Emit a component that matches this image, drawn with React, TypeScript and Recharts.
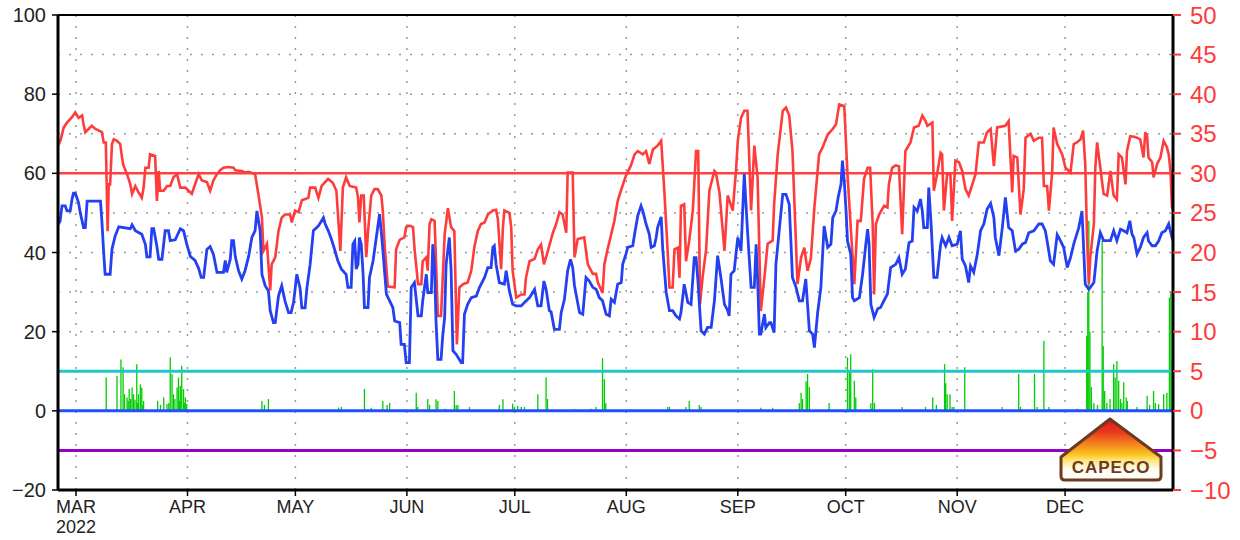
import React from 'react';
import { ComposedChart, Line, Scatter, ErrorBar, XAxis, YAxis, CartesianGrid, ReferenceLine } from 'recharts';

// day index 0 = 24 Feb 2022
const monthTicks = [5, 36, 66, 97, 127, 158, 189, 219, 250, 280];
const monthLabels = ['MAR', 'APR', 'MAY', 'JUN', 'JUL', 'AUG', 'SEP', 'OCT', 'NOV', 'DEC'];
const yearLabel = '2022';
const leftTicks = [-20, 0, 20, 40, 60, 80, 100];
const rightTicks = [-10, -5, 0, 5, 10, 15, 20, 25, 30, 35, 40, 45, 50];
const gridLevels = [-10, 10, 20, 30, 40, 50, 60, 70, 80, 90];

// blue series (left axis)
const blueSeries: [number, number][] = [
  [0,47],[0.6,48],[1.1,51.8],[2,51.8],[2.5,50.5],[3.4,50.5],[3.9,53.5],[4.3,55],[4.8,55],[5.7,52.6],[6.2,50],[6.7,48],[7.1,46.3],[7.6,46.3],[8.1,53],[11.8,53],[12.2,48],[12.7,40],[13.1,34.5],[14.5,34.5],[15,40.8],[15.9,44.2],[16.9,46.5],[20.1,46],[20.6,47],[21.5,45.5],[23.3,44.6],[24.3,42],[24.7,38.9],[25.6,38.9],[26.1,46],[26.6,46],[27.5,41.5],[28,38.3],[28.9,38.3],[29.8,45.5],[30.7,45.5],[31.2,43],[32.6,43.2],[34,46],[34.9,45.5],[35.8,42.1],[36.8,39],[38.1,38],[39.1,36],[39.8,33.7],[40.5,33.7],[41.4,40.8],[42.3,41.5],[43.2,39.6],[44.2,35],[46,35],[46.5,38],[46.9,35],[47.9,38.3],[48.3,43],[48.8,43],[49.3,38.9],[50.2,35.4],[51.1,33.3],[52,35.4],[53,39],[53.9,43.8],[54.8,45.5],[55.3,50.5],[56.2,45.5],[56.7,34.5],[57.6,31.6],[58.5,30.3],[59,25.3],[59.9,22.3],[60.4,22.3],[61.3,29],[62.2,31.6],[63.1,27.8],[64.1,24.8],[64.8,24.8],[65.5,27.4],[66.4,34.5],[67.3,31],[67.8,26],[68.7,26],[69.2,31],[70.1,37],[71,45.5],[72.4,46.7],[73.8,48.8],[74.3,47.2],[75.1,45.6],[76,43.4],[76.9,40.8],[77.8,37.9],[78.8,35.8],[80.1,34.5],[80.6,31.2],[81.5,31.2],[82,42.1],[82.5,42.9],[82.9,35.8],[83.4,37],[83.8,43.8],[84.3,42.1],[84.8,35],[85.2,26.1],[86.2,26.1],[86.6,33.7],[87.6,37.9],[88.5,43.8],[89.4,49.7],[89.9,45],[90.3,40.8],[91.3,29.5],[92.2,27.8],[93.1,26.1],[93.6,22.7],[95,22.3],[95.4,16.8],[96.3,16.8],[96.8,12.2],[97.7,12.2],[98.2,31.2],[99.1,32.4],[100.1,24],[101,24],[101.4,27.8],[102.4,34.5],[102.8,29.9],[103.8,29.9],[104.2,42.1],[104.7,36],[105.1,22.7],[105.6,13],[106.5,13],[107,19.4],[107.5,23.6],[107.9,37],[108.8,43.8],[109.3,35.4],[109.8,15.2],[110.7,14.3],[112.1,12.2],[112.5,12.2],[113,24.4],[113.9,26.9],[114.9,28.6],[116.3,29],[117.2,31.2],[118.6,33.7],[119.5,36.2],[120.4,36.2],[120.9,41.3],[121.3,41.7],[121.8,37],[122.7,32.4],[124.1,32],[124.6,35.4],[125.5,30.3],[126.4,26.9],[127.4,26.5],[128.8,26.5],[129.7,27.4],[131.1,28.6],[132.5,30.7],[133.4,26.5],[134.3,26.5],[135.1,32.8],[135.7,30.7],[136.6,25.3],[137.1,25],[138,20.6],[139.4,20.6],[139.9,24.8],[140.8,28.2],[141.7,35.4],[142.5,38.3],[143.1,36.2],[143.6,31.6],[145,24.8],[145.9,24.4],[146.8,33.7],[147.7,32.8],[148.7,31.2],[149.6,30.7],[150.5,28.6],[151.4,27.8],[152.4,24.4],[153.3,24],[153.8,28.2],[154.7,27.4],[155.6,32],[156.6,32.4],[157,37],[157.9,39.6],[158.4,41.3],[159.8,41.7],[160.3,44.6],[161.2,49.3],[162.1,51.8],[162.6,50.5],[163.5,47.2],[164.4,44.6],[164.9,41.3],[165.8,41.7],[166.3,43.8],[166.7,46.3],[167.7,49],[168.1,41.3],[169.1,29.9],[170,25.3],[170.9,25.3],[171.8,24],[172.8,23.2],[173.2,24.8],[174.1,32],[175.1,27.4],[176,26.9],[176.9,38.7],[177.4,38.7],[177.9,33],[178.8,20.2],[179.7,19.4],[180.6,21.1],[181.6,21.1],[182.5,27.8],[183.4,39.2],[184.3,33.7],[185.3,26.9],[186.2,25.3],[186.6,24],[187.1,34.5],[188,35.4],[189,43.8],[189.9,40.4],[190.4,51.4],[190.8,59.8],[191.7,45.5],[192.7,31.2],[193.6,31.2],[194.1,42.1],[194.5,33.7],[195,19.4],[195.4,19.4],[196.4,24.4],[196.8,21],[197.8,22.3],[198.2,22.3],[199.1,19.8],[199.6,37],[201.5,54.7],[202.4,54.7],[203.3,52.2],[203.8,42.1],[204.2,33.7],[205.2,31.2],[206.1,27.8],[207,27.8],[207.9,33.3],[208.9,20.2],[209.8,19.4],[210.3,16],[211.2,24.8],[212.1,31.2],[213,46.7],[214,41.3],[214.9,42.1],[215.4,48.8],[216.3,50.5],[216.9,53.9],[217.7,57.3],[218.1,63.2],[218.6,58],[219.1,50.5],[219.5,42.9],[220.4,39.6],[220.9,28.6],[221.4,27.8],[222.8,28.6],[223.7,34.5],[224.6,42.1],[225.1,45.9],[225.5,42.1],[226,26.9],[226.9,23.6],[227.9,25.8],[228.7,26.1],[229.6,27.8],[230.6,29.5],[231.5,36.2],[232.9,37],[233.8,38.7],[234.7,34.5],[235.6,35.8],[236.6,42.5],[237.5,42.9],[238,51.4],[238.9,50.5],[239.8,53.5],[240.3,50.5],[240.7,46.3],[241.7,46.3],[242.1,56.4],[242.8,46.3],[243.5,33.7],[244.4,33.7],[245.4,42.1],[245.8,43.8],[246.8,41.7],[247.7,43.8],[248.6,41.7],[250,42.1],[250.9,45.5],[251.4,38.3],[252.3,36.6],[253.2,32.4],[253.7,36.6],[254.6,35],[255.6,39.6],[256.5,45.5],[257.4,47.2],[258.3,50.9],[259.3,52.4],[260.2,48.8],[260.6,43.8],[261.6,39.2],[262.5,45.9],[263.4,53.9],[264.3,46.3],[265.3,45.5],[266.2,40.4],[267.1,40.8],[268.1,42.1],[269,42.5],[269.9,45],[271.3,45.5],[272.7,47.2],[273.6,47.2],[274.5,45.5],[275,42.9],[275.9,37.9],[276.8,37],[277.8,44.5],[278.7,43],[279.6,41.3],[280.6,36.2],[281.5,38.7],[282.4,42.1],[283.8,46.3],[284.7,50.5],[285.6,32],[286.6,30.7],[288,32.4],[288.9,40.4],[289.8,45],[290.7,43],[292.6,43],[293.5,45.5],[294.4,43],[295.4,45.9],[296.3,45.5],[297.2,45],[298,48],[298.6,44.6],[299.1,43.8],[300,39.6],[300.9,41.3],[301.8,43.8],[302.8,45],[303.2,42.9],[304.2,41.7],[305.1,41.7],[306,42.9],[306.9,45],[307.9,45.5],[308.8,47.2],[309.7,43.8],[310,43]
];

// red series (right axis)
const redSeries: [number, number][] = [
  [0,33.5],[0.65,34.1],[1.6,35.8],[2.5,36.4],[3.9,37.1],[4.8,37.7],[5.7,37],[6.7,37.3],[7.1,36.2],[7.6,35.2],[8.5,35.6],[9.4,36],[10.4,35.6],[12.2,35.2],[12.7,33.9],[13.3,33.9],[13.8,22.7],[14.1,28.6],[14.5,28.6],[15,33.7],[15.5,34.3],[16.4,34.1],[17.3,33.7],[17.8,32],[18.2,31],[19.2,29.9],[20.1,28.6],[20.6,27.4],[21.5,28.4],[22.4,27.6],[23.3,26.9],[23.8,28.2],[24.3,30.7],[25.2,30.7],[25.6,32.4],[27,32.2],[27.5,26.5],[28,30.3],[28.4,27.8],[29.4,27.8],[30.3,28.4],[31.2,28.4],[32.1,29.5],[33.1,29.9],[34,28.2],[35.4,28.2],[36.3,27.8],[37.2,27.4],[38.1,28.6],[39.1,29.9],[40,29.1],[41.4,28.9],[42.3,27.8],[43.2,29.1],[44.2,29.9],[45.1,30.4],[46,30.7],[47.4,30.8],[48.8,30.7],[49.3,30.4],[51.1,30.3],[52,30.1],[53,30.2],[54.8,29.9],[55.7,27.4],[56.7,24.4],[57.1,20.2],[58.1,21.1],[59,15.2],[59.4,18.5],[60.4,19.4],[61.3,22.7],[62.2,24.4],[63.1,24.8],[64.5,24.8],[65,23.8],[65.9,25.3],[66.9,25.1],[67.8,26.6],[69.6,26.9],[70.1,28.2],[71.5,28.2],[72.4,26.9],[73.3,28.4],[75.1,29.3],[76.4,28.8],[77.4,27.8],[78.5,20.2],[79.2,28.2],[80.1,29.5],[81.1,28.4],[82.9,28.2],[83.4,27],[83.8,23.8],[84.3,27.2],[85,27.2],[85.7,19.4],[86.2,22.7],[87.1,27.2],[88,28],[88.9,28],[89.9,27.2],[90.3,25.3],[90.8,21],[91.7,15.7],[93.6,15.6],[94,20.4],[95,21.6],[96.3,21.9],[96.8,23.2],[97.7,23.4],[98.7,23.2],[99.1,20.6],[100.1,16],[101,16],[101.4,18.9],[102.4,19.4],[102.8,17.7],[103.3,23.6],[103.8,24.2],[104.7,24],[105.1,18.9],[105.6,12],[106.5,12],[107.5,22.3],[108.4,25.6],[109.3,23.2],[110.2,22.7],[110.9,8.4],[111.6,15.6],[112.6,16],[113.9,16.2],[114.9,17.7],[115.8,20.8],[116.7,22.7],[117.6,23.6],[118.6,23.8],[119.5,24.8],[120.9,25.3],[121.8,25.4],[122.3,24.2],[123.2,17.9],[123.7,23.2],[124.1,25.3],[125.5,25],[126,23.2],[126.4,17.7],[127.4,14.3],[128.8,14.7],[129.7,14.7],[130.1,16.8],[131.1,18.9],[132.5,19.2],[133.4,20.4],[134.3,21],[135.1,18.5],[135.7,19.4],[137.6,22.5],[138.5,23.6],[139.4,25.1],[140.3,24.8],[141.3,22.5],[141.7,30.1],[143.1,30.1],[143.6,19.4],[144.5,21.7],[146.3,21.9],[147.3,18.5],[148.7,17.3],[149.6,17.3],[150.1,16.2],[151.4,14.9],[151.9,18.5],[152.8,20.4],[153.8,22.3],[154.7,24],[155.6,26.5],[156.5,27.8],[157.9,29.7],[159.3,31],[160.3,32.4],[161.2,32.8],[162.6,32.4],[163.5,32.8],[164.4,31.2],[165.4,33],[166.7,33.5],[167.7,34.1],[168.6,27.6],[169.5,20.2],[170,15.6],[170.9,15.6],[171.4,20.4],[172.3,20.6],[172.8,16.8],[173.2,25.9],[174.1,26.1],[174.6,18.9],[175.5,21.5],[176.5,25.3],[177.4,32.8],[178,32.8],[178.5,13.5],[179.2,16.8],[180.2,20.4],[181.1,27.8],[182.5,30.3],[182.9,30.1],[183.9,27.6],[185.3,20.2],[186.2,27.2],[187.6,25.3],[188.5,30.3],[189,34.1],[189.9,37],[190.8,37.9],[191.7,37.9],[192.7,25.3],[193.6,33.5],[194.5,29.5],[195.4,12.6],[196.4,16.8],[197.3,21.1],[198.7,21.5],[199.1,26.1],[200.1,32.4],[201.5,37.9],[202.4,38.3],[203.3,37.3],[204.2,32.8],[204.7,26.9],[205.6,16],[206.6,19.4],[207.5,20.6],[208.4,17.7],[209.3,19.2],[210.3,25.7],[211.6,32.4],[212.6,33.3],[214,34.9],[215.4,35.6],[216.3,36.2],[217.2,38.7],[218.6,38.5],[219.5,29.9],[220.4,23.2],[221.4,16],[222.3,24],[223.2,24],[224.1,29.3],[225.1,30.7],[225.8,30.7],[226.5,23.6],[226.9,14.7],[227.4,23.6],[228.3,24.8],[229.7,25.9],[230.6,25.7],[231,28.6],[231.9,30.7],[232.9,31],[233.8,30.9],[234.7,22.3],[235.6,32.8],[237,33.9],[238,35.8],[239.3,36],[240.3,37.3],[241.2,36.6],[241.7,36],[243.1,36.4],[243.5,27.8],[244.4,29.9],[245.4,32.6],[245.8,32.4],[246.3,25.3],[247.2,29.9],[248.1,29.9],[248.6,24],[249.5,31.6],[250.5,31.4],[251.4,30.3],[252.3,28],[253.2,27.2],[254.2,28.6],[255.1,29.9],[256,33.9],[257.4,33.9],[258.3,35.2],[259.3,35.6],[260.2,30.9],[261.1,35.8],[263.4,36],[264.3,36.6],[265.3,27.6],[265.7,32.2],[266.7,32],[267.6,24.8],[268.5,28],[269,34.5],[270.4,35],[271.3,34.1],[272.7,34.5],[273.6,34.5],[274.1,28.4],[275,28.4],[275.5,25.3],[276.4,30.1],[276.8,35.8],[277.8,33.7],[279.2,32.4],[280.1,30.7],[281.5,30.1],[282.4,33.7],[283.3,33.9],[284.3,34.3],[285,35.4],[285.6,31.2],[286.1,21.9],[286.6,16],[287,19.4],[288,23.6],[288.4,30.7],[288.9,33.9],[289.8,30.7],[290.7,27.4],[291.7,27.2],[292.6,30.3],[293.5,27.2],[294.4,26.7],[294.9,32.4],[295.8,32],[296.8,28.6],[297.2,32.8],[298.1,34.7],[299.5,34.6],[300.9,34.3],[301.8,32],[302.3,35.2],[302.8,34.7],[303.2,32],[304.2,31.4],[304.6,29.5],[305.6,31.2],[306.5,32],[307.4,34.1],[308.3,33.3],[308.8,32.4],[309.3,30.3],[309.7,25.7],[310,25.5]
];

// green bars (left axis)
const rainSeries: [number, number][] = [
  [13.4,8.4],[16.4,8.8],[17.5,13],[18.1,11],[18.5,4.2],[19.2,3.4],[19.5,2.5],[19.8,5.5],[20.2,3],[20.6,5.9],[21,4.2],[21.4,2.8],[21.9,11.8],[22.1,2],[22.4,4.2],[22.9,6.7],[23.3,5.9],[23.6,1.5],[23.8,2.5],[27.7,2.5],[28.5,1.5],[29.4,3.4],[30.3,1.7],[30.8,2],[31.2,13.5],[31.7,9.3],[32.1,4.2],[32.5,3],[33.1,5.9],[33.5,8.4],[33.8,2.5],[34,6.3],[34.4,11.4],[34.9,5.5],[35.1,2],[35.4,3.4],[35.8,1.7],[56.7,2.5],[57.4,1.5],[58.5,3],[78,0.8],[78.8,1],[85.2,5.5],[87.1,0.8],[90.3,2.5],[91.5,1.5],[92.2,2],[99.6,4.6],[100,1],[102.8,3],[103.3,1.5],[105.1,2.9],[105.6,2.5],[107.5,0.5],[110.2,5],[110.7,1.5],[111.2,1.5],[114.4,1],[122.7,1.5],[123.7,2.9],[126.4,1.8],[126.9,1],[127.8,1.2],[128.8,1],[129.7,1],[133.4,4.2],[135.7,8.4],[136.1,3],[143.6,0.5],[148.2,0.5],[149.6,1],[151.4,13.3],[151.9,8],[152.3,2],[169.5,1],[170,1],[174.6,1],[175.5,2.5],[178.3,1.5],[178.8,1],[195.4,0.8],[198.7,0.8],[206.1,2],[206.6,4.6],[207,3],[208,7.4],[208.4,9.3],[208.9,6],[214.4,2],[219.5,13.5],[220,10],[220.4,14.3],[221.4,7.6],[221.8,3.4],[226,2],[226.5,10.5],[227,2],[234.7,1],[241.2,1],[243.2,3.4],[244.2,1.5],[246.5,11.8],[246.8,7],[247.2,4.2],[248,4.2],[248.6,1],[249.1,1],[252.1,11],[262.5,1],[267.1,9.3],[267.6,1],[271.5,9.3],[272.2,1],[274.1,17.7],[275.5,1],[283.3,0.5],[286,19],[286.3,30],[286.6,48],[286.9,20],[287.3,6],[288,2],[289,1.5],[290.3,43],[290.6,16.4],[291,5],[291.6,2],[292.5,3],[293.5,11.8],[293.9,8.4],[294.4,12.6],[294.9,7.6],[295.4,3],[295.8,2],[296.3,7.2],[297,3.4],[297.3,2.5],[300,1],[302.8,3.8],[303.5,1.5],[304.6,5],[305.1,2],[306,1.7],[307.4,4.2],[308.3,4.6],[309,28.6],[309.4,30],[309.8,13]
];

const blueData = blueSeries.map(([d, y]) => ({ d, y }));
const redData = redSeries.map(([d, y]) => ({ d, y }));
const rainData = rainSeries.map(([d, v]) => ({ d, y: v / 2, e: v / 2 }));

const FONT = '"Liberation Sans", Arial, Helvetica, sans-serif';
const fmt = (v: number) => String(v).replace('-', '\u2212');

const MonthTick = (props: any) => {
  const { x, y, payload } = props;
  const i = monthTicks.indexOf(payload.value);
  return (
    <g>
      <text x={x} y={y} dy={15} textAnchor="middle" fontSize={18} fill="#222" fontFamily={FONT}>
        {monthLabels[i]}
      </text>
      {i === 0 && (
        <text x={x} y={y} dy={35} textAnchor="middle" fontSize={18} fill="#222" fontFamily={FONT}>
          {yearLabel}
        </text>
      )}
    </g>
  );
};

const Logo = () => (
  <svg width={110} height={70} style={{ position: 'absolute', left: 1057, top: 415 }}>
    <defs>
      <linearGradient id="capecoGrad" x1="0" y1="0" x2="0" y2="1">
        <stop offset="0" stopColor="#e3101c" />
        <stop offset="0.22" stopColor="#ea3a1e" />
        <stop offset="0.42" stopColor="#f3861f" />
        <stop offset="0.58" stopColor="#fcc41e" />
        <stop offset="0.68" stopColor="#ffe67a" />
        <stop offset="0.82" stopColor="#fffbee" />
        <stop offset="1" stopColor="#ffffff" />
      </linearGradient>
    </defs>
    <path
      d="M53,4 L104,42 L104,61 Q104,65 100,65 L8,65 Q4,65 4,61 L4,42 Z"
      fill="url(#capecoGrad)"
      stroke="#6b3a1f"
      strokeWidth={3}
      strokeLinejoin="round"
    />
    <text x={54} y={58} textAnchor="middle" fontSize={17} fontWeight="bold" fill="#6b3a1f" fontFamily={FONT} letterSpacing={1}>
      CAPECO
    </text>
  </svg>
);

export default function App() {
  return (
    <div style={{ position: 'absolute', left: 0, top: 0, width: 1240, height: 540, background: '#fff' }}>
      <ComposedChart width={1240} height={540} margin={{ top: 15, right: 0, bottom: 0, left: 0 }}>
        <CartesianGrid
          horizontalValues={gridLevels}
          verticalValues={monthTicks}
          stroke="#9a9a9a"
          strokeDasharray="2 9"
          strokeWidth={1.5}
        />
        <XAxis
          dataKey="d"
          type="number"
          domain={[0, 310]}
          ticks={monthTicks}
          allowDataOverflow
          height={50}
          tickSize={6}
          tickMargin={2}
          tick={<MonthTick />}
          axisLine={{ stroke: '#000', strokeWidth: 3 }}
          tickLine={{ stroke: '#000', strokeWidth: 1.5 }}
        />
        <YAxis
          dataKey="y"
          type="number"
          domain={[-20, 100]}
          ticks={leftTicks}
          allowDataOverflow
          width={58}
          tickSize={6}
          tickMargin={6}
          tickFormatter={fmt}
          tick={{ fontSize: 20, fill: '#222', fontFamily: FONT }}
          axisLine={{ stroke: '#000', strokeWidth: 3 }}
          tickLine={{ stroke: '#000', strokeWidth: 1.5 }}
        />
        <YAxis
          yAxisId="right"
          orientation="right"
          dataKey="y"
          type="number"
          domain={[-10, 50]}
          ticks={rightTicks}
          allowDataOverflow
          width={67}
          tickSize={8}
          tickMargin={9}
          tickFormatter={fmt}
          tick={{ fontSize: 24, fill: '#ff3b3b', fontFamily: FONT }}
          axisLine={{ stroke: '#000', strokeWidth: 3 }}
          tickLine={{ stroke: '#ff3b3b', strokeWidth: 2 }}
        />
        <Scatter data={rainData} dataKey="y" shape={() => <g />} isAnimationActive={false}>
          <ErrorBar dataKey="e" direction="y" width={0} stroke="#00cc00" strokeWidth={1.3} isAnimationActive={false} />
        </Scatter>
        <ReferenceLine y={100} stroke="#000" strokeWidth={2} />
        <ReferenceLine y={60} stroke="#ff4040" strokeWidth={2.5} />
        <ReferenceLine y={10} stroke="#1ec8c8" strokeWidth={3} />
        <ReferenceLine y={0} stroke="#2050ff" strokeWidth={3} />
        <ReferenceLine y={-10} stroke="#9400c8" strokeWidth={3} />
        <Line
          data={redData}
          yAxisId="right"
          dataKey="y"
          type="linear"
          stroke="#ff3c3c"
          strokeWidth={2.6}
          dot={false}
          isAnimationActive={false}
        />
        <Line
          data={blueData}
          dataKey="y"
          type="linear"
          stroke="#2440f0"
          strokeWidth={2.8}
          dot={false}
          isAnimationActive={false}
        />
      </ComposedChart>
      <Logo />
    </div>
  );
}
